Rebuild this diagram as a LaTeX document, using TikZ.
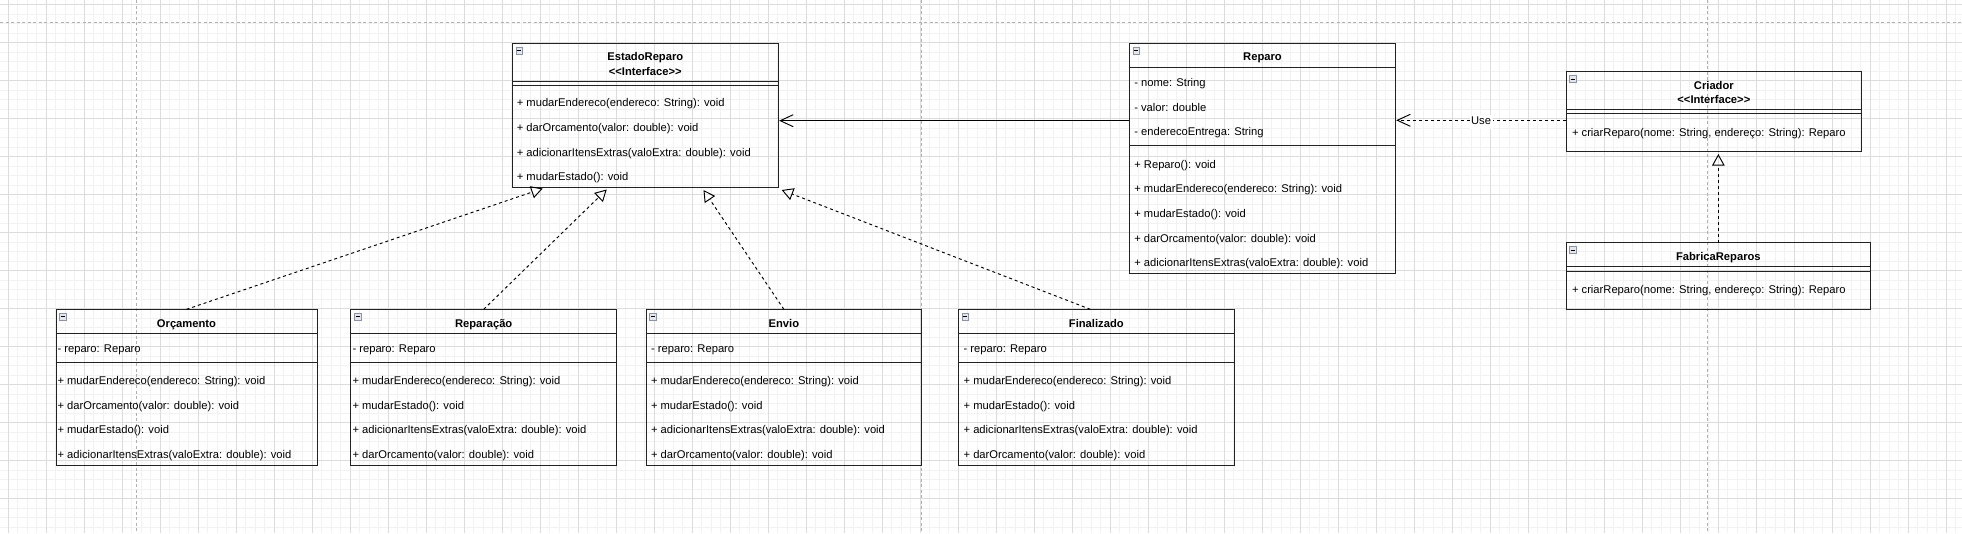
\documentclass[tikz,border=0pt]{standalone}
\usepackage{fontspec}
\newfontfamily\lsans{Liberation Sans}
\usetikzlibrary{arrows.meta,calc}
\definecolor{gridminor}{HTML}{F2F2F2}
\definecolor{gridmajor}{HTML}{DCDCDC}
\definecolor{pagebrk}{HTML}{B0B0B0}
\definecolor{iconfill}{HTML}{E4E6EC}
\definecolor{icondraw}{HTML}{8A94A6}
\definecolor{boxline}{HTML}{222222}

\newcommand\statebox[9]{%
  \node[box, minimum width=#3pt, minimum height=155.7pt] (#1) at (#2,309.3) {};
  \draw[sepline] ($(#1.north west)+(0,24.4)$) -- ($(#1.north east)+(0,24.4)$);
  \draw[sepline] ($(#1.north west)+(0,52.7)$) -- ($(#1.north east)+(0,52.7)$);
  \node[icon] (#1-ic) at ($(#1.north west)+(7,7.3)$) {};
  \node[ttl] (#1-t) at ($(#1.north)+(0,13)$) {#5};
  \node[txt] (#1-a) at ($(#1.north west)+(#4,37.8)$) {- reparo: Reparo};
  \node[txt] (#1-m1) at ($(#1.north west)+(#4,70)$) {#6};
  \node[txt] (#1-m2) at ($(#1.north west)+(#4,94.8)$) {#7};
  \node[txt] (#1-m3) at ($(#1.north west)+(#4,119.6)$) {#8};
  \node[txt] (#1-m4) at ($(#1.north west)+(#4,144.4)$) {#9};
}

\begin{document}
\begin{tikzpicture}[x=1pt,y=-1pt,
  box/.style={draw=boxline, line width=0.95pt, rectangle, anchor=north west, inner sep=0pt, outer sep=0pt},
  sepline/.style={draw=boxline, line width=0.95pt},
  txt/.style={font=\lsans\fontsize{11.2}{13}\selectfont, inner sep=0pt, outer sep=0pt, text height=8pt, text depth=2.4pt, anchor=west, yshift=-2.2pt},
  ttl/.style={font=\lsans\bfseries\fontsize{11.2}{13}\selectfont, inner sep=0pt, outer sep=0pt, text height=8pt, text depth=2.4pt, anchor=center, yshift=-2pt},
  icon/.style={draw=icondraw, fill=iconfill, line width=0.6pt, minimum size=6.5pt, inner sep=0pt, outer sep=0pt, rectangle,
    path picture={\draw[black, line width=0.9pt] ([xshift=-2.1pt]path picture bounding box.center) -- ([xshift=2.1pt]path picture bounding box.center);}},
  realize/.style={draw=black, line width=0.95pt, dash pattern=on 3pt off 3pt, -{Triangle[open, length=11.5pt, width=12.5pt]}},
  assoc/.style={draw=black, line width=0.95pt, -{Straight Barb[length=13pt, width=12pt]}},
  usedep/.style={assoc, dash pattern=on 3pt off 3pt},
  usel/.style={font=\lsans\fontsize{11.2}{13}\selectfont, fill=white, inner sep=1.5pt, text height=8pt, text depth=2.4pt, yshift=-1.5pt},
  minorline/.style={draw=gridminor, line width=0.9pt},
  majorline/.style={draw=gridmajor, line width=0.9pt},
  brk/.style={draw=pagebrk, line width=0.9pt, dash pattern=on 3pt off 2.5pt}
]
\useasboundingbox (0,0) rectangle (1962,533);
\fill[white] (0,0) rectangle (1962,533);
\begin{scope}
\clip (0,0) rectangle (1962,533);
\foreach \i in {0,...,207} \draw[minorline] ({-1.5+9.5*\i},0) -- ({-1.5+9.5*\i},533);
\foreach \i in {0,...,56} \draw[minorline] (0,{4.5+9.5*\i}) -- (1962,{4.5+9.5*\i});
\foreach \i in {0,...,51} \draw[majorline] ({8+38*\i},0) -- ({8+38*\i},533);
\foreach \i in {0,...,13} \draw[majorline] (0,{4.5+38*\i}) -- (1962,{4.5+38*\i});
\draw[brk] (136.3,0) -- (136.3,533);
\draw[brk] (921.8,0) -- (921.8,533);
\draw[brk] (1707.3,0) -- (1707.3,533);
\draw[brk] (0,22.3) -- (1962,22.3);
\end{scope}

% EstadoReparo
\node[box, minimum width=266pt, minimum height=144pt] (est) at (512.3,43.3) {};
\draw[sepline] ($(est.north west)+(0,37.7)$) -- ($(est.north east)+(0,37.7)$);
\draw[sepline] ($(est.north west)+(0,41.7)$) -- ($(est.north east)+(0,41.7)$);
\node[icon] (est-ic) at ($(est.north west)+(7,7.3)$) {};
\node[ttl] (est-t1) at ($(est.north)+(0,12.4)$) {EstadoReparo};
\node[ttl] (est-t2) at ($(est.north)+(0,27.7)$) {<<Interface>>};
\node[txt] (est-m1) at ($(est.north west)+(4.5,58.5)$) {+ mudarEndereco(endereco: String): void};
\node[txt] (est-m2) at ($(est.north west)+(4.5,83.2)$) {+ darOrcamento(valor: double): void};
\node[txt] (est-m3) at ($(est.north west)+(4.5,107.9)$) {+ adicionarItensExtras(valoExtra: double): void};
\node[txt] (est-m4) at ($(est.north west)+(4.5,132.6)$) {+ mudarEstado(): void};

% Reparo
\node[box, minimum width=266.4pt, minimum height=230pt] (rep) at (1129.3,43.3) {};
\draw[sepline] ($(rep.north west)+(0,24.4)$) -- ($(rep.north east)+(0,24.4)$);
\draw[sepline] ($(rep.north west)+(0,102.5)$) -- ($(rep.north east)+(0,102.5)$);
\node[icon] (rep-ic) at ($(rep.north west)+(7,7.3)$) {};
\node[ttl] (rep-t) at ($(rep.north)+(0,12.7)$) {Reparo};
\node[txt] (rep-a1) at ($(rep.north west)+(5,38.2)$) {- nome: String};
\node[txt] (rep-a2) at ($(rep.north west)+(5,62.9)$) {- valor: double};
\node[txt] (rep-a3) at ($(rep.north west)+(5,87.6)$) {- enderecoEntrega: String};
\node[txt] (rep-m1) at ($(rep.north west)+(5,119.8)$) {+ Reparo(): void};
\node[txt] (rep-m2) at ($(rep.north west)+(5,144.5)$) {+ mudarEndereco(endereco: String): void};
\node[txt] (rep-m3) at ($(rep.north west)+(5,169.2)$) {+ mudarEstado(): void};
\node[txt] (rep-m4) at ($(rep.north west)+(5,193.9)$) {+ darOrcamento(valor: double): void};
\node[txt] (rep-m5) at ($(rep.north west)+(5,218.6)$) {+ adicionarItensExtras(valoExtra: double): void};

% Criador
\node[box, minimum width=295.7pt, minimum height=79.3pt] (cri) at (1566,71.7) {};
\draw[sepline] ($(cri.north west)+(0,37.6)$) -- ($(cri.north east)+(0,37.6)$);
\draw[sepline] ($(cri.north west)+(0,41.6)$) -- ($(cri.north east)+(0,41.6)$);
\node[icon] (cri-ic) at ($(cri.north west)+(7,7.3)$) {};
\node[ttl] (cri-t1) at ($(cri.north)+(0,13.3)$) {Criador};
\node[ttl] (cri-t2) at ($(cri.north)+(0,26.6)$) {<<Interface>>};
\node[txt] (cri-m1) at ($(cri.north west)+(6,60)$) {+ criarReparo(nome: String, endereço: String): Reparo};

% FabricaReparos
\node[box, minimum width=304.7pt, minimum height=66.3pt] (fab) at (1566,242.7) {};
\draw[sepline] ($(fab.north west)+(0,24)$) -- ($(fab.north east)+(0,24)$);
\draw[sepline] ($(fab.north west)+(0,28.3)$) -- ($(fab.north east)+(0,28.3)$);
\node[icon] (fab-ic) at ($(fab.north west)+(7,7.3)$) {};
\node[ttl] (fab-t) at ($(fab.north)+(0,13.3)$) {FabricaReparos};
\node[txt] (fab-m1) at ($(fab.north west)+(6,46)$) {+ criarReparo(nome: String, endereço: String): Reparo};

% state classes
\statebox{orc}{56}{261}{1.5}{Orçamento}{+ mudarEndereco(endereco: String): void}{+ darOrcamento(valor: double): void}{+ mudarEstado(): void}{+ adicionarItensExtras(valoExtra: double): void}
\statebox{rpc}{350.7}{266}{1.8}{Reparação}{+ mudarEndereco(endereco: String): void}{+ mudarEstado(): void}{+ adicionarItensExtras(valoExtra: double): void}{+ darOrcamento(valor: double): void}
\statebox{env}{646}{275.7}{5}{Envio}{+ mudarEndereco(endereco: String): void}{+ mudarEstado(): void}{+ adicionarItensExtras(valoExtra: double): void}{+ darOrcamento(valor: double): void}
\statebox{fin}{958.3}{276}{5.3}{Finalizado}{+ mudarEndereco(endereco: String): void}{+ mudarEstado(): void}{+ adicionarItensExtras(valoExtra: double): void}{+ darOrcamento(valor: double): void}

% connectors
\draw[realize] (orc.north) -- ($(est.south west)+(30.4,1.2)$);
\draw[realize] (rpc.north) -- ($(est.south west)+(94.4,2.2)$);
\draw[realize] (env.north) -- ($(est.south west)+(191.2,2.7)$);
\draw[realize] ($(fin.north)+(-6,0)$) -- ($(est.south west)+(269.4,2.7)$);
\draw[realize] (fab.north) -- ($(fab.north |- cri.south)+(0,3)$);
\draw[assoc] ($(rep.north west)+(0,77.4)$) -- ($(est.north east)+(0.8,77.4)$);
\draw[usedep] ($(cri.north west)+(0,48.6)$) -- node[usel] (use) {Use} ($(rep.north east)+(0.5,77)$);
\end{tikzpicture}
\end{document}
